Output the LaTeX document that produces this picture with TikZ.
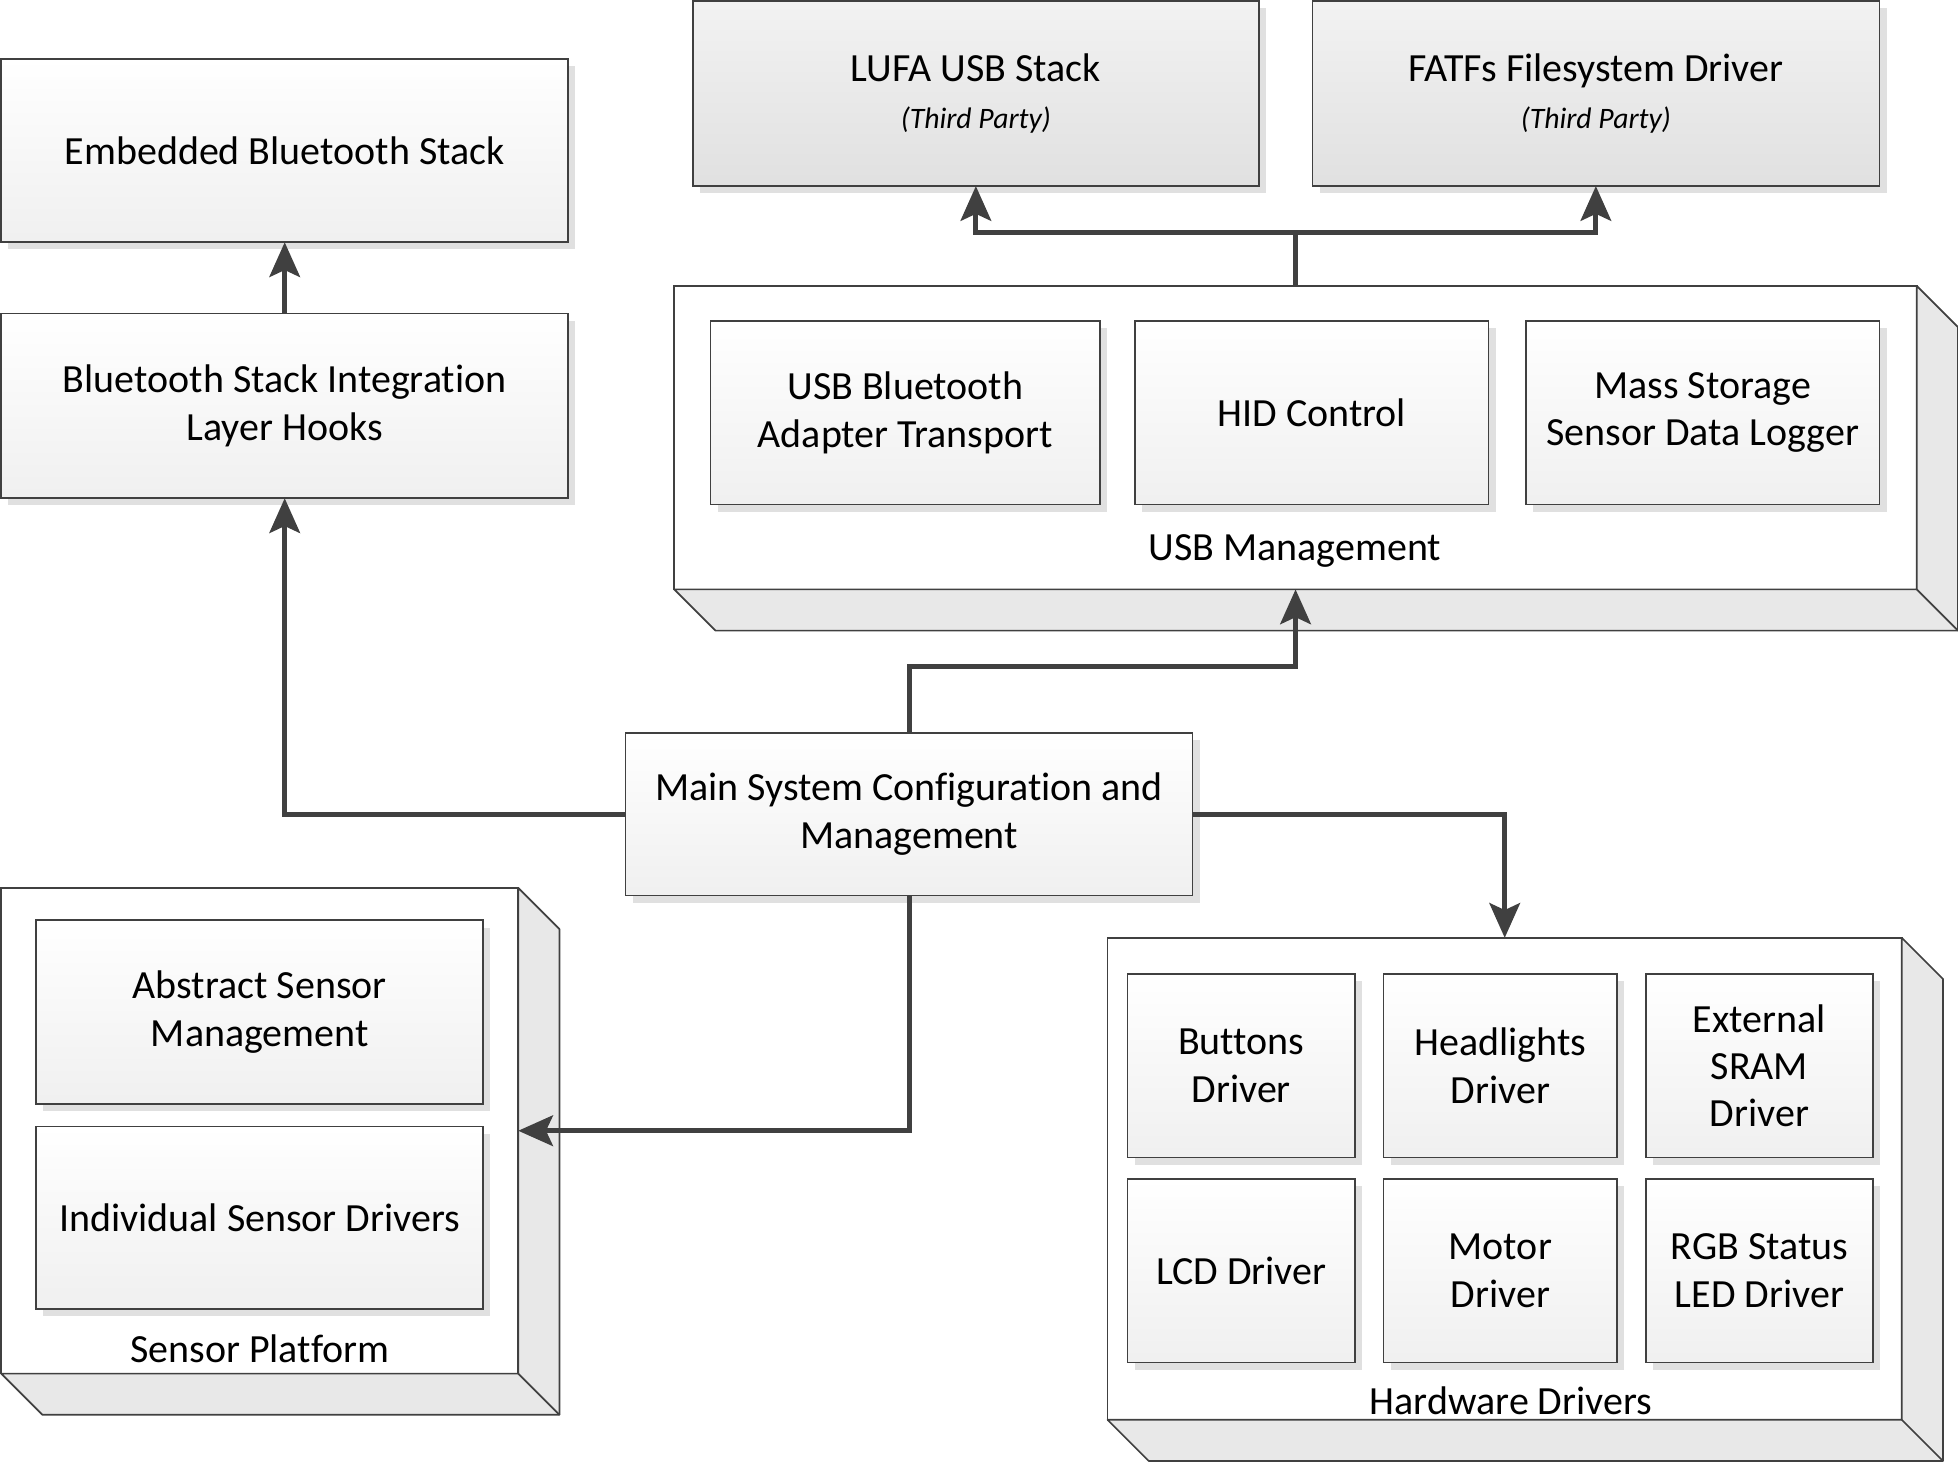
\documentclass[tikz,border=0pt]{standalone}
\usepackage{fontspec}
\setmainfont{Carlito}[Ligatures=NoCommon]
\usetikzlibrary{arrows.meta,shadows}
\definecolor{edgegray}{HTML}{404040}
\begin{document}
\begin{tikzpicture}[x=0.45pt, y=-0.45pt,
    block/.style={draw=edgegray, line width=0.6pt, top color=white, bottom color=black!6,
        align=center, inner sep=0pt, outer sep=0pt, font=\fontsize{14.4}{17.1}\selectfont,
        drop shadow={shadow xshift=2.6pt, shadow yshift=-2.6pt, fill=black!12, opacity=1}},
    thirdblock/.style={block, top color=black!5, bottom color=black!12},
    container/.style={draw=edgegray, line width=0.6pt, fill=white, inner sep=0pt, outer sep=0pt},
    depthface/.style={draw=edgegray, line width=0.6pt, fill=black!9, line join=round},
    boxsize/.style 2 args={minimum width=#1*0.45pt, minimum height=#2*0.45pt},
    grouplabel/.style={font=\fontsize{14.4}{17.1}\selectfont, inner sep=0pt},
    conn/.style={draw=edgegray, line width=1.8pt},
    arr/.style={conn, -{Stealth[width=11pt, length=12.5pt, inset=2.5pt]}}]
    \useasboundingbox (0,0) rectangle (1568,1172);

    % Containers (front face, then the extruded faces)
    \node[container, boxsize={995}{243}] (usbm) at (1037.5,350.5) {};
    \node[container, boxsize={414}{389}] (sensor) at (208,905.5) {};
    \node[container, boxsize={636}{386}] (hw) at (1205,944) {};
    \foreach \c in {usbm,sensor,hw}{
        \filldraw[depthface] (\c.north east) -- ++(33,33) -- ([shift={(33,33)}]\c.south east)
            -- ([shift={(33,33)}]\c.south west) -- (\c.south west) -- (\c.south east) -- cycle;
        \draw[depthface] (\c.south east) -- ++(33,33);
    }
    \node[grouplabel] (usbmlabel) at (1037,441) {USB Management};
    \node[grouplabel] (sensorlabel) at (208,1080) {Sensor Platform};
    \node[grouplabel] (hwlabel) at (1210,1122) {Hardware Drivers};

    % USB management modules
    \node[block, boxsize={312}{147}] (usbbt) at (725,330.5) {USB Bluetooth\\Adapter Transport};
    \node[block, boxsize={283}{147}] (hid) at (1050.5,330.5) {HID Control};
    \node[block, boxsize={283}{147}] (msd) at (1363.5,330.5) {Mass Storage\\Sensor Data Logger};

    % Sensor platform modules
    \node[block, boxsize={358}{147}] (abssensor) at (208,810.5) {Abstract Sensor\\Management};
    \node[block, boxsize={358}{146}] (indsensor) at (208,975) {Individual Sensor Drivers};

    % Hardware drivers
    \node[block, boxsize={182}{147}] (buttons) at (994,853.5) {Buttons\\Driver};
    \node[block, boxsize={187}{147}] (headlights) at (1201.5,853.5) {Headlights\\Driver};
    \node[block, boxsize={182}{147}] (sram) at (1409,853.5) {External\\SRAM\\Driver};
    \node[block, boxsize={182}{147}] (lcd) at (994,1017.5) {LCD Driver};
    \node[block, boxsize={187}{147}] (motor) at (1201.5,1017.5) {Motor\\Driver};
    \node[block, boxsize={182}{147}] (rgb) at (1409,1017.5) {RGB Status\\LED Driver};

    % Stand-alone blocks
    \node[block, boxsize={454}{147}] (btstack) at (228,120.5) {Embedded Bluetooth Stack};
    \node[block, boxsize={454}{148}] (bthooks) at (228,325) {Bluetooth Stack Integration\\Layer Hooks};
    \node[thirdblock, boxsize={453}{148}] (lufa) at (781.5,75)
        {LUFA USB Stack\\[0pt]{\fontsize{10.7}{13}\selectfont\itshape (Third Party)}};
    \node[thirdblock, boxsize={454}{148}] (fatfs) at (1278,75)
        {FATFs Filesystem Driver\\[0pt]{\fontsize{10.7}{13}\selectfont\itshape (Third Party)}};
    \node[block, boxsize={454}{130}] (mainsys) at (728,652) {Main System Configuration and\\Management};

    % Connectors
    \coordinate (usbsplit) at (1037.5,186);
    \coordinate (mainup) at (728,534);
    \draw[arr] (bthooks.north) -- (btstack.south);
    \draw[conn] (usbm.north) -- (usbsplit);
    \draw[arr] (usbsplit) -| (lufa.south);
    \draw[arr] (usbsplit) -| (fatfs.south);
    \draw[arr] (mainsys.north) -- (mainup) -| (usbm.south);
    \draw[arr] (mainsys.west) -| (bthooks.south);
    \draw[arr] (mainsys.east) -| (hw.north);
    \draw[arr] (mainsys.south) |- (sensor.east);
\end{tikzpicture}
\end{document}
